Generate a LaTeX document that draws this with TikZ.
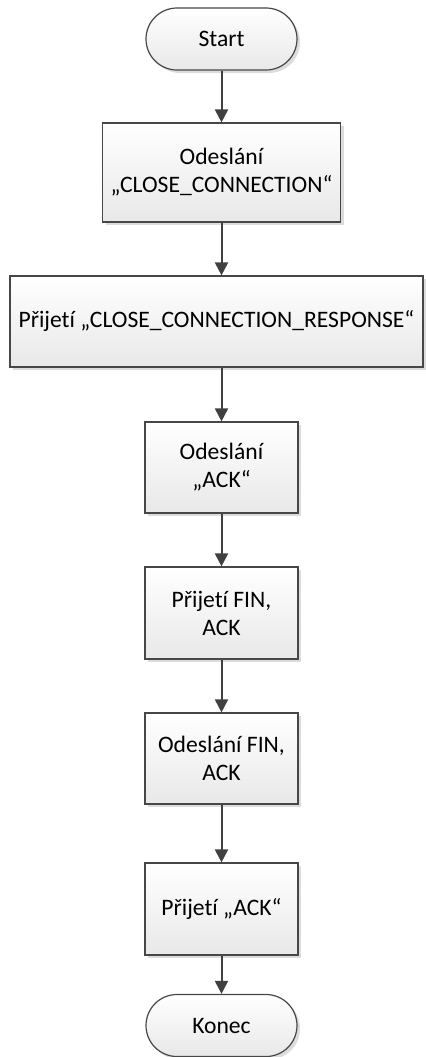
\documentclass[tikz,border=0pt]{standalone}
\usepackage{fontspec}
\setmainfont{Carlito}[Ligatures=NoCommon]
\usetikzlibrary{arrows.meta,shadows}

\def \boxHeight {45.5pt}
\def \boxWidth {76.5pt}

\begin{document}
\begin{tikzpicture}[x=0.5pt, y=-0.5pt,
      every node/.style={font=\fontsize{11.8}{14}\selectfont, align=center, inner sep=0pt},
      process/.style={draw=black!72, line width=0.6pt, top color=white, bottom color=black!9,
         drop shadow={shadow xshift=1.5pt, shadow yshift=-1.5pt, fill=black!30, opacity=0.45},
         minimum width=\boxWidth, minimum height=\boxHeight},
      terminal/.style={process, rounded corners=15.5pt, minimum width=75.5pt, minimum height=31pt},
      flow/.style={-{Triangle[length=6.5pt, width=6.5pt]}, draw=black!75, line width=1pt}]
      \useasboundingbox (0,0) rectangle (425,1057);

      % start and end of the closing sequence
      \node[terminal] (start) at (221.5, 39) {Start};
      \node[terminal] (konec) at (221.5, 1025.5) {Konec};

      % steps
      \node[process, minimum width=119pt, minimum height=49.5pt] (sendClose) at (221.5, 172.5)
         {Odeslání\\„CLOSE\_CONNECTION“};
      \node[process, minimum width=206.5pt] (recvResponse) at (216.5, 321.5)
         {Přijetí „CLOSE\_CONNECTION\_RESPONSE“};
      \node[process] (sendAck) at (221.5, 467.5) {Odeslání\\„ACK“};
      \node[process, minimum height=46pt] (recvFin) at (221.5, 613) {Přijetí FIN,\\ACK};
      \node[process] (sendFin) at (221.5, 758.5) {Odeslání FIN,\\ACK};
      \node[process, minimum height=46pt] (recvAck) at (221.5, 909) {Přijetí „ACK“};

      \draw[flow] (start) -- (sendClose);
      \draw[flow] (sendClose.south) -- (sendClose.south |- recvResponse.north);
      \draw[flow] (sendClose.south |- recvResponse.south) -- (sendAck.north);
      \draw[flow] (sendAck) -- (recvFin);
      \draw[flow] (recvFin) -- (sendFin);
      \draw[flow] (sendFin) -- (recvAck);
      \draw[flow] (recvAck) -- (konec);
   \end{tikzpicture}
\end{document}
